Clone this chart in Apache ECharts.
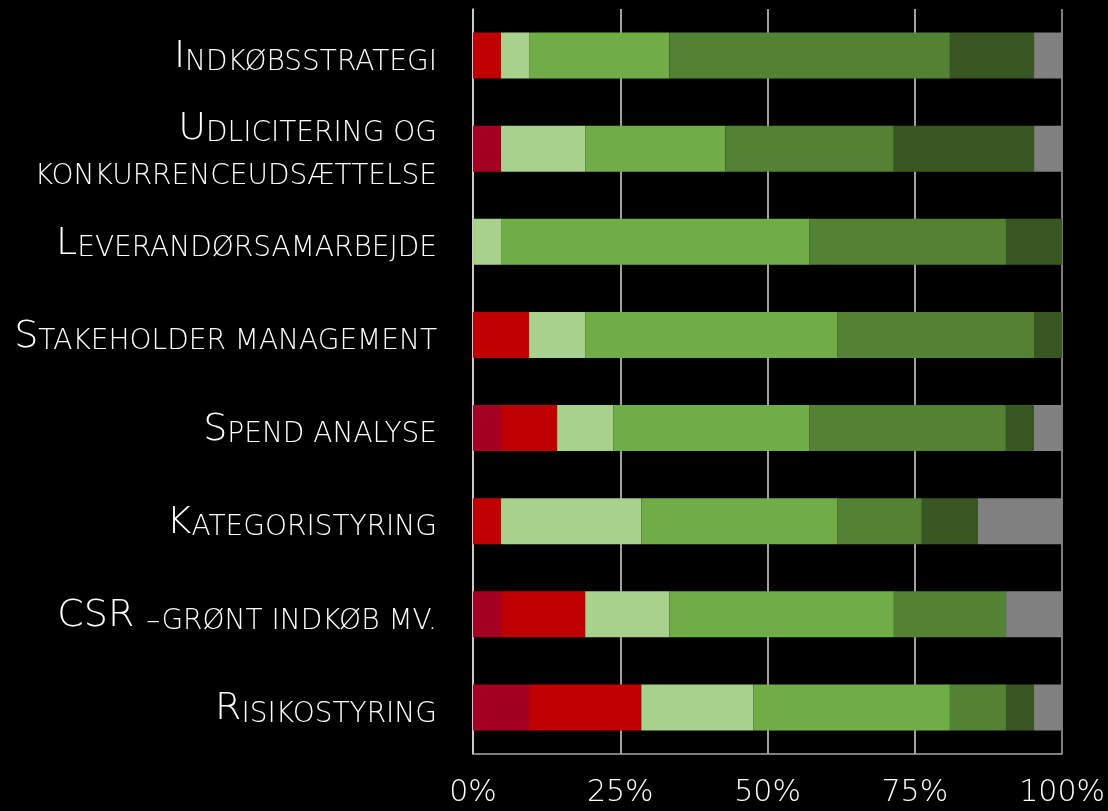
<!DOCTYPE html>
<html>
<head>
<meta charset="utf-8">
<script src="https://cdn.jsdelivr.net/npm/echarts@6/dist/echarts.min.js"></script>
<style>
  html, body { margin: 0; padding: 0; background: #000; }
  #chart { width: 1108px; height: 811px; }
</style>
</head>
<body>
<div id="chart"></div>
<script>
// Categories, top to bottom
const categories = [
  'Indkøbsstrategi',
  'Udlicitering og\nkonkurrenceudsættelse',
  'Leverandørsamarbejde',
  'Stakeholder management',
  'Spend analyse',
  'Kategoristyring',
  'CSR –grønt indkøb mv.',
  'Risikostyring'
];

// Share of answers per level (%), one value per category
const level1 = [0, 4.76, 0, 0, 4.76, 0, 4.76, 9.52];
const level2 = [4.76, 0, 0, 9.52, 9.52, 4.76, 14.29, 19.05];
const level3 = [4.76, 14.29, 4.76, 9.52, 9.52, 23.81, 14.29, 19.05];
const level4 = [23.81, 23.81, 52.38, 42.86, 33.33, 33.33, 38.10, 33.33];
const level5 = [47.62, 28.57, 33.33, 33.33, 33.33, 14.29, 19.05, 9.52];
const level6 = [14.29, 23.81, 9.52, 4.76, 4.76, 9.52, 0, 4.76];
const unknown = [4.76, 4.76, 0, 0, 4.76, 14.29, 9.52, 4.76];

const tickLabels = ['0%', '25%', '50%', '75%', '100%'];

const seriesNames = ['Niveau 1', 'Niveau 2', 'Niveau 3', 'Niveau 4', 'Niveau 5', 'Niveau 6', 'Ved ikke'];
const seriesData = [level1, level2, level3, level4, level5, level6, unknown];
const COLORS = ['#a50021', '#c00000', '#a9d18e', '#70ad47', '#548235', '#385723', '#808080'];

const FONT = '"DejaVu Sans", sans-serif';

// Small caps: capitals stay big, lower case becomes smaller capitals
function smallCaps(str) {
  return str.split('\n').map(line => {
    let out = '';
    let run = '';
    let big = null;
    for (const ch of line) {
      const isBig = ch !== ch.toLowerCase();
      const kind = ch === ' ' ? big : isBig;
      if (big !== null && kind !== big) {
        out += '{' + (big ? 'big' : 'small') + '|' + run + '}';
        run = '';
      }
      big = kind === null ? false : kind;
      run += ch.toUpperCase();
    }
    if (run) out += '{' + (big ? 'big' : 'small') + '|' + run + '}';
    return out;
  }).join('\n');
}

const chart = echarts.init(document.getElementById('chart'));

chart.setOption({
  backgroundColor: '#000',
  animation: false,
  grid: { left: 473, right: 42, top: 9, bottom: 57, containLabel: false },
  xAxis: {
    type: 'value',
    min: 0,
    max: 100,
    interval: 25,
    axisLine: { show: true, lineStyle: { color: '#a6a6a6', width: 1.5 } },
    axisTick: { show: false },
    splitLine: {
      show: true,
      lineStyle: { color: ['#d9d9d9', '#d9d9d9', '#d9d9d9', '#d9d9d9', '#a6a6a6'], width: 1.5 }
    },
    axisLabel: {
      color: '#fff',
      fontFamily: FONT,
      fontWeight: 200,
      fontSize: 30,
      margin: 24,
      formatter: v => tickLabels[v / 25]
    }
  },
  yAxis: {
    type: 'category',
    inverse: true,
    data: categories,
    axisLine: { show: true, lineStyle: { color: '#d9d9d9', width: 1.5 } },
    axisTick: { show: false },
    axisLabel: {
      margin: 36,
      padding: [0, 0, 8, 0],
      color: '#fff',
      fontFamily: FONT,
      fontWeight: 200,
      formatter: v => smallCaps(v),
      rich: {
        big: { fontSize: 38, lineHeight: 50, color: '#fff', fontFamily: FONT, fontWeight: 200, verticalAlign: 'bottom' },
        small: { fontSize: 28, lineHeight: 43, color: '#fff', fontFamily: FONT, fontWeight: 200, verticalAlign: 'bottom' }
      }
    }
  },
  series: seriesNames.map((name, i) => ({
    name: name,
    type: 'bar',
    stack: 'total',
    barWidth: '49.4%',
    data: seriesData[i],
    itemStyle: { color: COLORS[i] }
  }))
});
</script>
</body>
</html>
